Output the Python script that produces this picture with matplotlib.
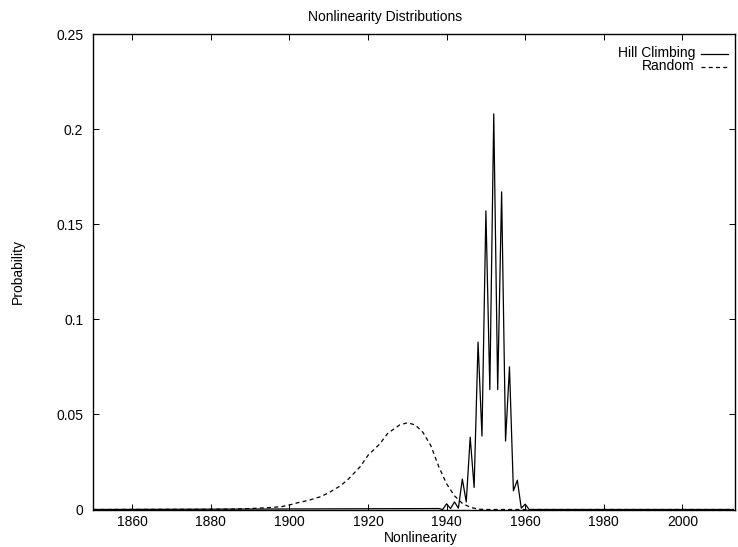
import matplotlib
matplotlib.use("Agg")
import matplotlib.pyplot as plt

# Hill climbing distribution (nonzero part, zero elsewhere)
hill_x = [1850, 1938, 1939, 1940, 1941, 1942, 1943, 1944, 1945, 1946, 1947, 1948,
          1949, 1950, 1951, 1952, 1953, 1954, 1955, 1956, 1957, 1958, 1959, 1960,
          1961, 2013]
hill_y = [0, 0.0005, 0.0, 0.003, 0.0005, 0.004, 0.0007, 0.016, 0.004, 0.038, 0.0116, 0.088,
          0.0386, 0.157, 0.063, 0.208, 0.063, 0.167, 0.036, 0.075, 0.0098, 0.0154, 0.0007, 0.0028,
          0.0, 0]

# Random functions distribution
random_x = [1850, 1880, 1885, 1890, 1894, 1898, 1900, 1902, 1905, 1908, 1910, 1913,
            1915, 1918, 1920, 1923, 1925, 1928, 1930, 1932, 1934, 1936, 1938, 1940,
            1942, 1944, 1946, 1948, 1950, 2013]
random_y = [0, 0.0001, 0.0002, 0.0005, 0.0009, 0.0015, 0.0024, 0.0035, 0.0049, 0.0068, 0.0088, 0.0125,
            0.0160, 0.0225, 0.0285, 0.0345, 0.0400, 0.0444, 0.0456, 0.0445, 0.0405, 0.0335, 0.0225, 0.0135,
            0.0072, 0.0032, 0.0012, 0.0002, 0, 0]

x_ticks = [1860, 1880, 1900, 1920, 1940, 1960, 1980, 2000]
y_ticks = [0, 0.05, 0.1, 0.15, 0.2, 0.25]
y_tick_labels = ["0", "0.05", "0.1", "0.15", "0.2", "0.25"]

plt.rcParams['font.family'] = ['Liberation Sans', 'DejaVu Sans']
fs = 10

fig = plt.figure(figsize=(7.38, 5.47), dpi=100)
ax = fig.add_axes([93 / 738, 1 - 509.5 / 547, (735 - 93) / 738, (509.5 - 34) / 547])

ax.plot(hill_x, hill_y, color='black', lw=0.9)
ax.plot(random_x, random_y, color='black', lw=0.9, linestyle=(0, (3.2, 2.6)))

ax.set_xlim(1850, 2013.4)
ax.set_ylim(0, 0.25)
ax.set_xticks(x_ticks)
ax.set_yticks(y_ticks)
ax.set_yticklabels(y_tick_labels)
ax.tick_params(direction='in', length=4.5, width=0.7, top=True, right=True,
               labelsize=fs, colors='black')
ax.tick_params(axis='x', pad=4)
ax.tick_params(axis='y', pad=7)
for s in ax.spines.values():
    s.set_linewidth(1.0)

fig.text(385 / 738, 1 - 17 / 547, "Nonlinearity Distributions", fontsize=fs,
         ha='center', va='center')
ax.set_xlabel("Nonlinearity", fontsize=fs)
ax.xaxis.set_label_coords((421 - 93) / 642, -(538 - 509.5) / (509.5 - 34))
ax.xaxis.label.set_va('center')
ax.set_ylabel("Probability", fontsize=fs)
ax.yaxis.set_label_coords(-(93 - 18) / 642, 0.5)
ax.yaxis.label.set_va('center')

# key in the top right, text right-aligned with a line sample
key_labels = ["Hill Climbing", "Random"]
key_styles = ['-', (0, (3.2, 2.6))]
for i, (lab, st) in enumerate(zip(key_labels, key_styles)):
    yk = 1 - (53.5 + i * 13 - 34) / (509.5 - 34)
    ax.text((695 - 93) / 642, yk, lab, transform=ax.transAxes, ha='right', va='center', fontsize=fs)
    ax.plot([(701 - 93) / 642, (728 - 93) / 642], [yk, yk], transform=ax.transAxes,
            color='black', lw=0.9, linestyle=st, clip_on=False)

fig.savefig("out.png", dpi=100)
